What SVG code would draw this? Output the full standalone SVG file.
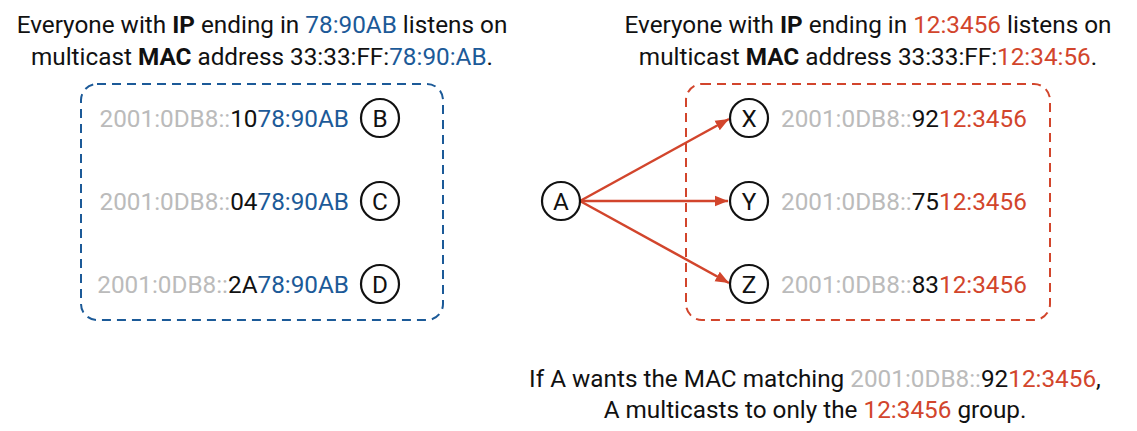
<svg xmlns="http://www.w3.org/2000/svg" width="1137" height="431" viewBox="0 0 1137 431">
<style>
text{font-family:Roboto,"Liberation Sans",sans-serif;font-size:24.3px;fill:#111}
.b{font-weight:bold}
.bl{fill:#1c5a98}
.rd{fill:#d2452c}
.gr{fill:#bbbbbb}
.node circle{fill:#fff;stroke:#111;stroke-width:2.2}
.node text{text-anchor:middle}
.box{fill:none;stroke-width:2;stroke-dasharray:9 6}
.edge{stroke:#d2452c;stroke-width:2.5;fill:none;marker-end:url(#ah)}
</style>
<defs>
<marker id="ah" viewBox="0 0 10 10" refX="10" refY="5" markerWidth="5.4" markerHeight="5.4" orient="auto" markerUnits="strokeWidth"><path d="M0,1 L10,5 L0,9 z" fill="#d2452c"/></marker>
</defs>
<rect width="1137" height="431" fill="#fff"/>
<text x="262" y="33" text-anchor="middle">Everyone with <tspan class="b">IP</tspan> ending in <tspan class="bl">78:90AB</tspan> listens on</text>
<text x="262" y="65" text-anchor="middle">multicast <tspan class="b">MAC</tspan> address 33:33:FF:<tspan class="bl">78:90:AB</tspan>.</text>
<text x="868" y="33" text-anchor="middle">Everyone with <tspan class="b">IP</tspan> ending in <tspan class="rd">12:3456</tspan> listens on</text>
<text x="868" y="65" text-anchor="middle">multicast <tspan class="b">MAC</tspan> address 33:33:FF:<tspan class="rd">12:34:56</tspan>.</text>
<rect class="box" x="81" y="84" width="362" height="236" rx="16" stroke="#1c5a98"/>
<rect class="box" x="686" y="84" width="364" height="236" rx="16" stroke="#d2452c"/>
<g id="labels">
<text x="349" y="127" text-anchor="end"><tspan class="gr">2001:0DB8::</tspan>10<tspan class="bl">78:90AB</tspan></text>
<text x="349" y="210" text-anchor="end"><tspan class="gr">2001:0DB8::</tspan>04<tspan class="bl">78:90AB</tspan></text>
<text x="349" y="293" text-anchor="end"><tspan class="gr">2001:0DB8::</tspan>2A<tspan class="bl">78:90AB</tspan></text>
<text x="781" y="127"><tspan class="gr">2001:0DB8::</tspan>92<tspan class="rd">12:3456</tspan></text>
<text x="781" y="210"><tspan class="gr">2001:0DB8::</tspan>75<tspan class="rd">12:3456</tspan></text>
<text x="781" y="293"><tspan class="gr">2001:0DB8::</tspan>83<tspan class="rd">12:3456</tspan></text>
</g>
<g id="connectors">
<line class="edge" x1="580" y1="201" x2="729" y2="119"/>
<line class="edge" x1="580" y1="201" x2="728" y2="201"/>
<line class="edge" x1="580" y1="201" x2="729" y2="283"/>
</g>
<g id="node-B" class="node"><circle cx="380" cy="118" r="19"/><text x="380" y="127">B</text></g>
<g id="node-C" class="node"><circle cx="380" cy="201" r="19"/><text x="380" y="210">C</text></g>
<g id="node-D" class="node"><circle cx="380" cy="284" r="19"/><text x="380" y="293">D</text></g>
<g id="node-A" class="node"><circle cx="561" cy="201" r="19"/><text x="561" y="210">A</text></g>
<g id="node-X" class="node"><circle cx="749" cy="118" r="19"/><text x="749" y="127">X</text></g>
<g id="node-Y" class="node"><circle cx="749" cy="201" r="19"/><text x="749" y="210">Y</text></g>
<g id="node-Z" class="node"><circle cx="749" cy="284" r="19"/><text x="749" y="293">Z</text></g>
<text x="815" y="387" text-anchor="middle">If A wants the MAC matching <tspan class="gr">2001:0DB8::</tspan>92<tspan class="rd">12:3456</tspan>,</text>
<text x="815" y="418" text-anchor="middle">A multicasts to only the <tspan class="rd">12:3456</tspan> group.</text>
</svg>
